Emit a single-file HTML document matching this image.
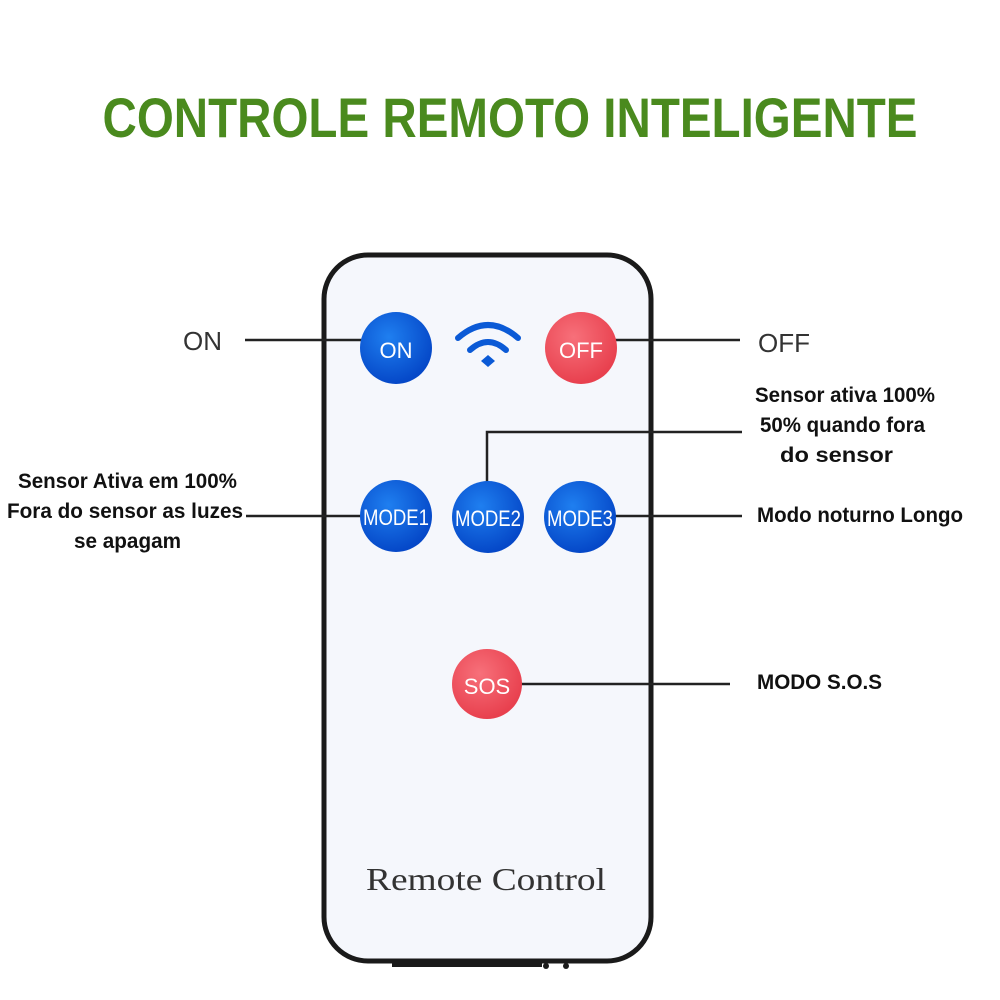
<!DOCTYPE html>
<html><head><meta charset="utf-8"><style>
html,body{margin:0;padding:0;background:#fff;width:1000px;height:1000px;overflow:hidden}
svg{display:block}
.l{font-family:"Liberation Sans",sans-serif;font-weight:bold;font-size:21px;fill:#111}
.b{font-family:"Liberation Sans",sans-serif;fill:#fff;font-size:22px}
</style></head><body>
<svg width="1000" height="1000" viewBox="0 0 1000 1000">
<defs>
<radialGradient id="bl" cx="40%" cy="35%" r="65%"><stop offset="0" stop-color="#1f7ff0"/><stop offset="1" stop-color="#0548c8"/></radialGradient>
<radialGradient id="rd" cx="40%" cy="35%" r="65%"><stop offset="0" stop-color="#f7707a"/><stop offset="1" stop-color="#e8404e"/></radialGradient>
</defs>
<text x="510" y="137" text-anchor="middle" textLength="815" lengthAdjust="spacingAndGlyphs" font-family="Liberation Sans,sans-serif" font-weight="bold" font-size="56" fill="#4a8a1e">CONTROLE REMOTO INTELIGENTE</text>
<rect x="324" y="255" width="327" height="706" rx="44" fill="#f5f7fc" stroke="#1a1a1a" stroke-width="5"/>
<rect x="392" y="962" width="150" height="5" fill="#1a1a1a"/>
<circle cx="546" cy="966" r="3" fill="#1a1a1a"/><circle cx="566" cy="966" r="3" fill="#1a1a1a"/>
<g stroke="#222" stroke-width="2.5" fill="none">
<line x1="245" y1="340" x2="365" y2="340"/>
<line x1="612" y1="340" x2="740" y2="340"/>
<polyline points="487,485 487,432 742,432"/>
<line x1="246" y1="516" x2="364" y2="516"/>
<line x1="612" y1="516" x2="742" y2="516"/>
<line x1="520" y1="684" x2="730" y2="684"/>
</g>
<circle cx="396" cy="348" r="36" fill="url(#bl)"/>
<text class="b" x="396" y="358" text-anchor="middle" font-size="27">ON</text>
<circle cx="581" cy="348" r="36" fill="url(#rd)"/>
<text class="b" x="581" y="358" text-anchor="middle" font-size="27">OFF</text>
<g fill="none" stroke="#0b5ad6" stroke-width="6" stroke-linecap="round">
<path d="M458 338 Q488 312 518 338"/>
<path d="M470 350 Q488 334 506 350"/>
</g>
<path d="M481 361 L488 355 L495 361 L488 367Z" fill="#0b5ad6"/>
<circle cx="396" cy="516" r="36" fill="url(#bl)"/>
<text class="b" x="396" y="525" text-anchor="middle" textLength="66" lengthAdjust="spacingAndGlyphs">MODE1</text>
<circle cx="488" cy="517" r="36" fill="url(#bl)"/>
<text class="b" x="488" y="526" text-anchor="middle" textLength="66" lengthAdjust="spacingAndGlyphs">MODE2</text>
<circle cx="580" cy="517" r="36" fill="url(#bl)"/>
<text class="b" x="580" y="526" text-anchor="middle" textLength="66" lengthAdjust="spacingAndGlyphs">MODE3</text>
<circle cx="487" cy="684" r="35" fill="url(#rd)"/>
<text class="b" x="487" y="694" text-anchor="middle" font-size="25">SOS</text>
<text x="183" y="350" font-family="Liberation Sans,sans-serif" font-size="26" fill="#333">ON</text>
<text x="758" y="352" font-family="Liberation Sans,sans-serif" font-size="26" fill="#333">OFF</text>
<text class="l" x="755" y="402" textLength="180" lengthAdjust="spacingAndGlyphs">Sensor ativa 100%</text>
<text class="l" x="760" y="432" textLength="165" lengthAdjust="spacingAndGlyphs">50% quando fora</text>
<text class="l" x="780" y="462" textLength="113" lengthAdjust="spacingAndGlyphs">do sensor</text>
<text class="l" x="18" y="488" textLength="219" lengthAdjust="spacingAndGlyphs">Sensor Ativa em 100%</text>
<text class="l" x="7" y="518" textLength="236" lengthAdjust="spacingAndGlyphs">Fora do sensor as luzes</text>
<text class="l" x="74" y="548" textLength="107" lengthAdjust="spacingAndGlyphs">se apagam</text>
<text class="l" x="757" y="522" textLength="206" lengthAdjust="spacingAndGlyphs">Modo noturno Longo</text>
<text class="l" x="757" y="689" textLength="125" lengthAdjust="spacingAndGlyphs">MODO S.O.S</text>
<text x="486" y="890" text-anchor="middle" textLength="240" lengthAdjust="spacingAndGlyphs" font-family="Liberation Serif,serif" font-size="32" fill="#333">Remote Control</text>
</svg>
</body></html>
